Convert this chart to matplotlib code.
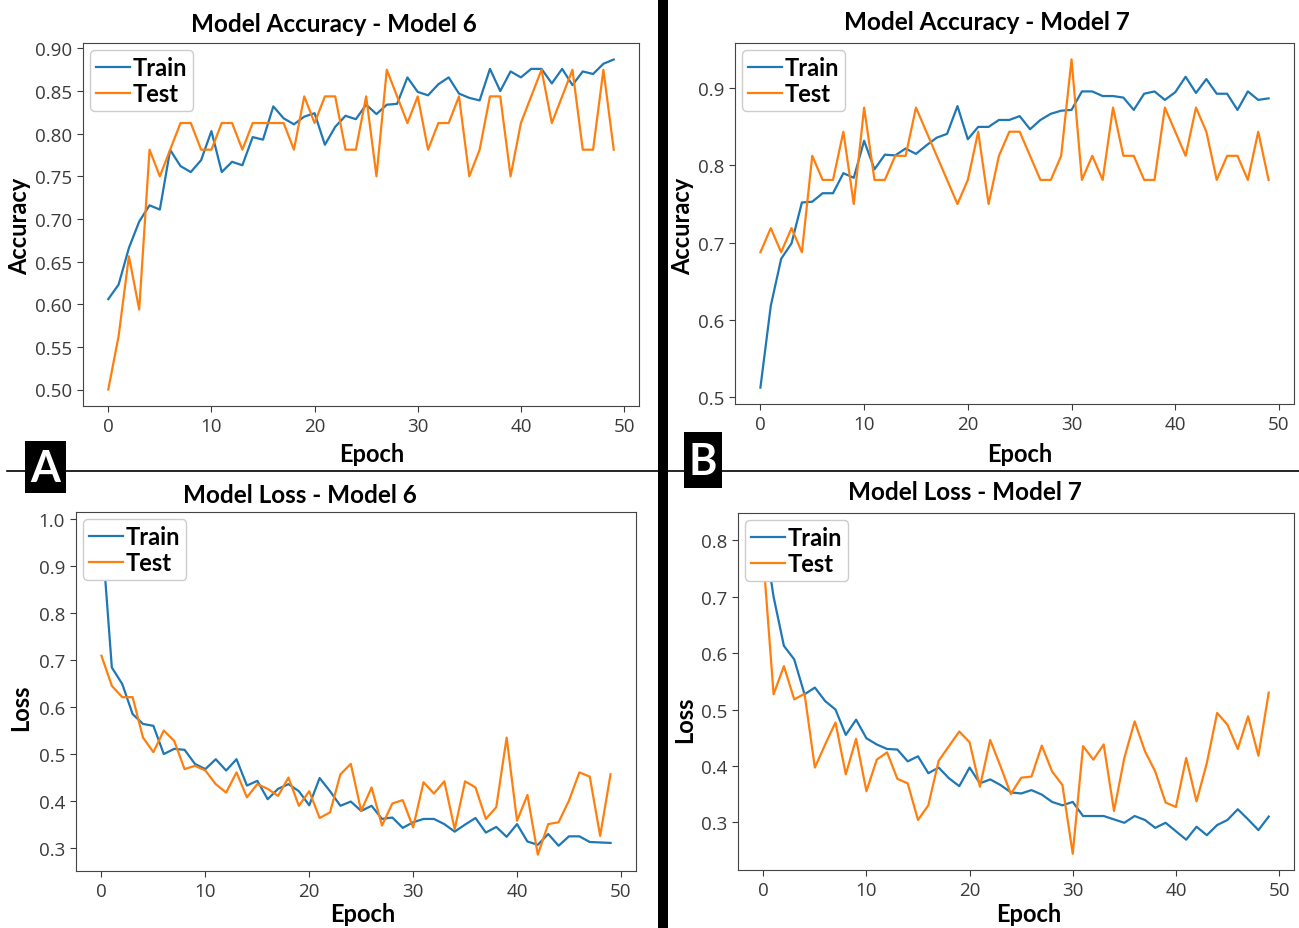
import numpy as np
import matplotlib
matplotlib.use('Agg')
import matplotlib.pyplot as plt
from matplotlib.patches import Rectangle
from matplotlib.lines import Line2D

W, H = 1299, 929

epochs = list(range(50))

acc6_train = [0.606, 0.623, 0.666, 0.697, 0.716, 0.711, 0.781, 0.762, 0.755, 0.769,
              0.803, 0.755, 0.767, 0.763, 0.796, 0.793, 0.832, 0.818, 0.811, 0.820,
              0.824, 0.787, 0.808, 0.821, 0.817, 0.834, 0.823, 0.834, 0.835, 0.866,
              0.849, 0.845, 0.858, 0.866, 0.847, 0.842, 0.839, 0.876, 0.850, 0.873,
              0.866, 0.876, 0.876, 0.859, 0.876, 0.857, 0.873, 0.870, 0.882, 0.887]
acc6_test = [0.5, 0.5625, 0.65625, 0.59375, 0.78125, 0.75, 0.78125, 0.8125, 0.8125, 0.78125,
             0.78125, 0.8125, 0.8125, 0.78125, 0.8125, 0.8125, 0.8125, 0.8125, 0.78125, 0.84375,
             0.8125, 0.84375, 0.84375, 0.78125, 0.78125, 0.84375, 0.75, 0.875, 0.84375, 0.8125,
             0.84375, 0.78125, 0.8125, 0.8125, 0.84375, 0.75, 0.78125, 0.84375, 0.84375, 0.75,
             0.8125, 0.84375, 0.875, 0.8125, 0.84375, 0.875, 0.78125, 0.78125, 0.875, 0.78125]

acc7_train = [0.512, 0.618, 0.679, 0.699, 0.752, 0.753, 0.764, 0.764, 0.790, 0.784,
              0.832, 0.795, 0.814, 0.813, 0.822, 0.815, 0.826, 0.836, 0.841, 0.877,
              0.834, 0.850, 0.850, 0.859, 0.859, 0.864, 0.847, 0.859, 0.867, 0.871,
              0.872, 0.896, 0.896, 0.890, 0.890, 0.888, 0.872, 0.893, 0.896, 0.885,
              0.895, 0.915, 0.894, 0.912, 0.893, 0.893, 0.872, 0.896, 0.885, 0.887]
acc7_test = [0.6875, 0.71875, 0.6875, 0.71875, 0.6875, 0.8125, 0.78125, 0.78125, 0.84375, 0.75,
             0.875, 0.78125, 0.78125, 0.8125, 0.8125, 0.875, 0.84375, 0.8125, 0.78125, 0.75,
             0.78125, 0.84375, 0.75, 0.8125, 0.84375, 0.84375, 0.8125, 0.78125, 0.78125, 0.8125,
             0.9375, 0.78125, 0.8125, 0.78125, 0.875, 0.8125, 0.8125, 0.78125, 0.78125, 0.875,
             0.84375, 0.8125, 0.875, 0.84375, 0.78125, 0.8125, 0.8125, 0.78125, 0.84375, 0.78125]

loss6_train = [0.98, 0.684, 0.649, 0.585, 0.564, 0.560, 0.500, 0.511, 0.509, 0.479,
               0.468, 0.489, 0.465, 0.489, 0.433, 0.443, 0.404, 0.426, 0.436, 0.421,
               0.391, 0.449, 0.421, 0.390, 0.399, 0.379, 0.390, 0.362, 0.365, 0.343,
               0.355, 0.362, 0.362, 0.351, 0.335, 0.350, 0.364, 0.333, 0.345, 0.324,
               0.351, 0.314, 0.307, 0.330, 0.305, 0.325, 0.325, 0.313, 0.312, 0.311]
loss6_test = [0.709, 0.645, 0.621, 0.621, 0.535, 0.504, 0.550, 0.528, 0.468, 0.475,
              0.465, 0.436, 0.418, 0.461, 0.408, 0.436, 0.426, 0.411, 0.450, 0.390,
              0.421, 0.364, 0.376, 0.457, 0.479, 0.379, 0.429, 0.348, 0.395, 0.402,
              0.344, 0.440, 0.416, 0.442, 0.340, 0.442, 0.429, 0.362, 0.387, 0.535,
              0.358, 0.413, 0.286, 0.351, 0.355, 0.401, 0.461, 0.452, 0.326, 0.457]

loss7_train = [0.82, 0.70, 0.613, 0.589, 0.527, 0.539, 0.515, 0.500, 0.455, 0.482,
               0.449, 0.438, 0.430, 0.429, 0.408, 0.417, 0.387, 0.397, 0.378, 0.364,
               0.397, 0.369, 0.376, 0.366, 0.353, 0.351, 0.357, 0.349, 0.336, 0.330,
               0.336, 0.311, 0.311, 0.311, 0.305, 0.299, 0.311, 0.304, 0.290, 0.299,
               0.284, 0.269, 0.292, 0.277, 0.295, 0.304, 0.323, 0.305, 0.286, 0.310]
loss7_test = [0.77, 0.527, 0.577, 0.518, 0.528, 0.397, 0.438, 0.477, 0.385, 0.448,
              0.355, 0.411, 0.424, 0.377, 0.369, 0.304, 0.330, 0.409, 0.435, 0.461,
              0.442, 0.363, 0.446, 0.399, 0.350, 0.379, 0.381, 0.436, 0.390, 0.366,
              0.244, 0.435, 0.411, 0.438, 0.320, 0.414, 0.479, 0.426, 0.390, 0.335,
              0.327, 0.414, 0.337, 0.405, 0.494, 0.473, 0.430, 0.488, 0.418, 0.530]

bold = dict(family='Lato', weight='bold', color='black')
tickcol = '#3a3a3a'


def px(x, y):
    return x / W, 1 - y / H


def make_axes(fig, box, train, test, title, tpos, ylabel, ypos, xpos):
    l, t, r, b = box
    ax = fig.add_axes([l / W, 1 - b / H, (r - l) / W, (b - t) / H])
    ax.plot(epochs, train, color='#1f77b4', lw=1.6, label='Train')
    ax.plot(epochs, test, color='#ff7f0e', lw=1.6, label='Test')
    ax.set_xticks([0, 10, 20, 30, 40, 50])
    for s in ax.spines.values():
        s.set_color('#444444')
    ax.tick_params(colors=tickcol, labelsize=13.5, length=4, pad=4)
    for lab in ax.get_xticklabels() + ax.get_yticklabels():
        lab.set_family('Open Sans')
    ax.legend(loc='upper left', prop=dict(family='Lato', weight='bold', size=17),
              handlelength=1.45, handletextpad=0.12, borderpad=0.25,
              labelspacing=0.12, borderaxespad=0.3, framealpha=1)
    fig.text(*px(*tpos), title, ha='center', va='center', fontsize=17.5, **bold)
    fig.text(*px(*xpos), 'Epoch', ha='center', va='center', fontsize=17, **bold)
    fig.text(*px(*ypos), ylabel, ha='center', va='center', rotation=90, fontsize=17, **bold)
    return ax


fig = plt.figure(figsize=(W / 100, H / 100), dpi=100)
fig.patch.set_facecolor('white')

ax1 = make_axes(fig, (83, 44, 639, 407), acc6_train, acc6_test,
                'Model Accuracy - Model 6', (334, 24), 'Accuracy', (20, 226), (372, 454))
ax2 = make_axes(fig, (735, 44, 1294, 405), acc7_train, acc7_test,
                'Model Accuracy - Model 7', (987, 22), 'Accuracy', (683, 226), (1020, 454))
ax3 = make_axes(fig, (76, 513, 636, 872), loss6_train, loss6_test,
                'Model Loss - Model 6', (300, 496), 'Loss', (21, 708), (363, 915))
ax4 = make_axes(fig, (738, 514, 1294, 871), loss7_train, loss7_test,
                'Model Loss - Model 7', (965, 493), 'Loss', (685, 720), (1029, 915))

# divider lines
fig.add_artist(Line2D([7 / W, 1], [1 - 472 / H] * 2, color='black', lw=1.2))
fig.add_artist(Rectangle((658 / W, 0), 10 / W, 1, color='black', lw=0))

# panel letters
for (x0, y0, x1, y1), letter in [((25, 442, 66, 494), 'A'), ((684, 433, 722, 489), 'B')]:
    fig.add_artist(Rectangle((x0 / W, 1 - y1 / H), (x1 - x0) / W, (y1 - y0) / H,
                             color='black', lw=0))
    fig.text(*px((x0 + x1) / 2, (y0 + y1) / 2 + 1), letter, ha='center', va='center',
             fontsize=31, family='Lato', weight='bold', color='white')

plt.savefig('out.png', dpi=100)
